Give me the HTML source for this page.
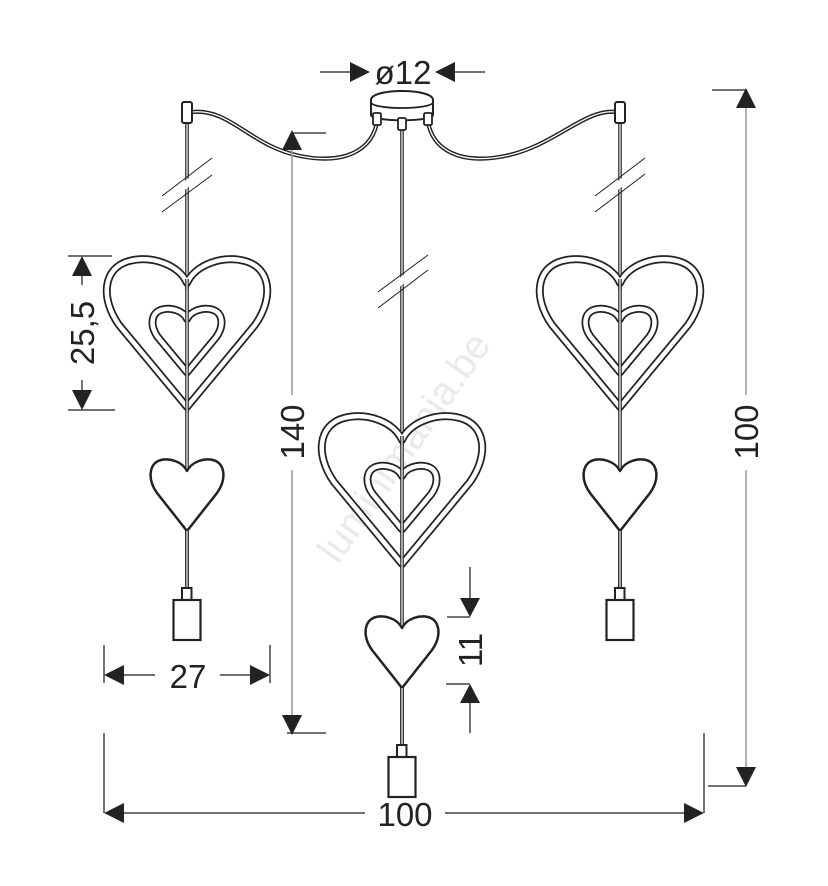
<!DOCTYPE html>
<html><head><meta charset="utf-8"><style>html,body{margin:0;padding:0;background:#fff}svg{display:block}</style></head>
<body>
<svg width="828" height="886" viewBox="0 0 828 886" xmlns="http://www.w3.org/2000/svg" font-family="Liberation Sans, Arial, sans-serif">
<defs>
  <path id="big" d="M0,0 C-8,-18 -35,-28 -58,-22 C-84,-15 -87,15 -68,42 L0,124 L68,42 C87,15 84,-15 58,-22 C35,-28 8,-18 0,0Z"/>
  <path id="small" d="M0,0 C-5,-10 -18,-13 -26,-11 C-38,-8 -40,8 -30,22 L0,60 L30,22 C40,8 38,-8 26,-11 C18,-13 5,-10 0,0Z"/>
  <g id="pend">
    <!-- outer tube heart -->
    <use href="#big" fill="none" stroke="#222" stroke-width="8" stroke-linejoin="round"/>
    <use href="#big" fill="none" stroke="#fff" stroke-width="4.5" stroke-linejoin="round"/>
    <!-- inner tube heart -->
    <g transform="translate(0,36) scale(0.43)">
      <use href="#big" fill="none" stroke="#222" stroke-width="18.6" stroke-linejoin="round"/>
      <use href="#big" fill="none" stroke="#fff" stroke-width="10.5" stroke-linejoin="round"/>
    </g>
    <!-- cord through -->
    <line x1="0" y1="-4" x2="0" y2="306" stroke="#222" stroke-width="3.6"/>
    <line x1="0" y1="-4" x2="0" y2="306" stroke="#fff" stroke-width="1.2"/>
    <!-- small heart -->
    <use href="#small" transform="translate(0,188)" fill="#fff" stroke="#222" stroke-width="2.5" stroke-linejoin="round"/>
    <line x1="0" y1="248" x2="0" y2="306" stroke="#222" stroke-width="3.6"/>
    <line x1="0" y1="248" x2="0" y2="306" stroke="#fff" stroke-width="1.2"/>
    <!-- socket -->
    <rect x="-5" y="305" width="9.5" height="12" fill="#fff" stroke="#222" stroke-width="2"/>
    <rect x="-13.5" y="317" width="27" height="40" fill="#fff" stroke="#222" stroke-width="2.2"/>
  </g>
  <g id="cord">
    <line x1="0" y1="0" x2="0" y2="1" stroke="#222" stroke-width="3.6"/>
  </g>
</defs>

<!-- watermark -->
<text x="0" y="0" transform="translate(415,455) rotate(-55)" text-anchor="middle" font-size="40" fill="#eaeaea">luminimania.be</text>

<!-- cables -->
<g fill="none" stroke-linecap="round">
  <path d="M377,122 C372,150 345,165 300,156 C250,146 230,108 192,112" stroke="#222" stroke-width="4.2"/>
  <path d="M377,122 C372,150 345,165 300,156 C250,146 230,108 192,112" stroke="#fff" stroke-width="1.3"/>
  <path d="M428,122 C433,150 460,165 505,156 C555,146 585,108 616,112" stroke="#222" stroke-width="4.2"/>
  <path d="M428,122 C433,150 460,165 505,156 C555,146 585,108 616,112" stroke="#fff" stroke-width="1.3"/>
</g>

<!-- vertical upper cords -->
<g>
  <line x1="187" y1="122" x2="187" y2="290" stroke="#222" stroke-width="3.6"/>
  <line x1="187" y1="122" x2="187" y2="290" stroke="#fff" stroke-width="1.2"/>
  <line x1="620" y1="122" x2="620" y2="290" stroke="#222" stroke-width="3.6"/>
  <line x1="620" y1="122" x2="620" y2="290" stroke="#fff" stroke-width="1.2"/>
  <line x1="402" y1="128" x2="402" y2="445" stroke="#222" stroke-width="3.6"/>
  <line x1="402" y1="128" x2="402" y2="445" stroke="#fff" stroke-width="1.2"/>
</g>

<!-- side caps -->
<rect x="182" y="102" width="10" height="21" rx="2" fill="#fff" stroke="#222" stroke-width="2"/>
<rect x="615" y="102" width="10" height="21" rx="2" fill="#fff" stroke="#222" stroke-width="2"/>

<!-- canopy -->
<path d="M371,115 L371,100 C371,88 433,88 433,100 L433,115 C433,122 371,122 371,115Z" fill="#fff" stroke="#222" stroke-width="2"/>
<path d="M371,102 C371,110 433,110 433,102" fill="none" stroke="#222" stroke-width="1.8"/>
<rect x="373" y="113" width="8" height="12" rx="1.5" fill="#fff" stroke="#222" stroke-width="1.8"/>
<rect x="424" y="113" width="8" height="12" rx="1.5" fill="#fff" stroke="#222" stroke-width="1.8"/>
<rect x="398" y="118" width="8" height="12" rx="1.5" fill="#fff" stroke="#222" stroke-width="1.8"/>

<!-- pendants -->
<use href="#pend" transform="translate(187,283)"/>
<use href="#pend" transform="translate(620,283)"/>
<use href="#pend" transform="translate(402,440)"/>

<!-- break marks -->
<g stroke="#fff" stroke-width="7">
  <line x1="165" y1="200" x2="210" y2="167"/>
  <line x1="598" y1="200" x2="643" y2="167"/>
  <line x1="381" y1="296" x2="426" y2="263"/>
</g>
<g stroke="#222" stroke-width="1">
  <line x1="162" y1="196" x2="212" y2="158"/>
  <line x1="162" y1="212" x2="212" y2="175"/>
  <line x1="595" y1="196" x2="645" y2="158"/>
  <line x1="595" y1="212" x2="645" y2="174"/>
  <line x1="378" y1="292" x2="428" y2="255"/>
  <line x1="378" y1="308" x2="428" y2="270"/>
</g>

<!-- dimensions -->
<g stroke="#444" stroke-width="1.5" fill="none">
  <!-- ø12 -->
  <line x1="320" y1="72" x2="355" y2="72"/>
  <line x1="450" y1="72" x2="485" y2="72"/>
  <!-- 140 -->
  <line x1="292" y1="133" x2="326" y2="133"/>
  <line x1="287" y1="733" x2="326" y2="733"/>
  <line x1="292" y1="150" x2="292" y2="395" stroke="#999"/>
  <line x1="292" y1="470" x2="292" y2="715" stroke="#999"/>
  <!-- right 100 -->
  <line x1="712" y1="90" x2="746" y2="90"/>
  <line x1="708" y1="786" x2="746" y2="786"/>
  <line x1="746" y1="108" x2="746" y2="395" stroke="#999"/>
  <line x1="746" y1="470" x2="746" y2="768" stroke="#999"/>
  <!-- bottom 100 -->
  <line x1="104" y1="733" x2="104" y2="813"/>
  <line x1="704" y1="733" x2="704" y2="813"/>
  <line x1="124" y1="813" x2="365" y2="813"/>
  <line x1="445" y1="813" x2="684" y2="813"/>
  <!-- 27 -->
  <line x1="104" y1="645" x2="104" y2="683"/>
  <line x1="270" y1="645" x2="270" y2="683"/>
  <line x1="124" y1="675" x2="155" y2="675"/>
  <line x1="220" y1="675" x2="250" y2="675"/>
  <!-- 25,5 -->
  <line x1="68" y1="256" x2="112" y2="256"/>
  <line x1="68" y1="410" x2="115" y2="410"/>
  <line x1="82" y1="276" x2="82" y2="285"/>
  <line x1="82" y1="380" x2="82" y2="390"/>
  <!-- 11 -->
  <line x1="470" y1="567" x2="470" y2="598"/>
  <line x1="447" y1="617" x2="470" y2="617"/>
  <line x1="446" y1="684" x2="470" y2="684"/>
  <line x1="470" y1="703" x2="470" y2="733"/>
</g>

<g fill="#222">
  <!-- ø12 arrows -->
  <polygon points="370,72 350,62 350,82"/>
  <polygon points="435,72 455,62 455,82"/>
  <!-- 140 -->
  <polygon points="292,130 282,150 302,150"/>
  <polygon points="292,735 282,715 302,715"/>
  <!-- right 100 -->
  <polygon points="746,88 736,108 756,108"/>
  <polygon points="746,787 736,767 756,767"/>
  <!-- bottom 100 -->
  <polygon points="104,813 124,803 124,823"/>
  <polygon points="704,813 684,803 684,823"/>
  <!-- 27 -->
  <polygon points="104,675 124,665 124,685"/>
  <polygon points="270,675 250,665 250,685"/>
  <!-- 25,5 -->
  <polygon points="82,256 72,276 92,276"/>
  <polygon points="82,410 72,390 92,390"/>
  <!-- 11 -->
  <polygon points="470,617 460,598 480,598"/>
  <polygon points="470,684 460,703 480,703"/>
</g>

<g fill="#222" font-size="33">
  <text x="403" y="84" text-anchor="middle">ø12</text>
  <text x="188" y="688" text-anchor="middle">27</text>
  <text x="405" y="826" text-anchor="middle">100</text>
  <text transform="translate(304,432) rotate(-90)" text-anchor="middle">140</text>
  <text transform="translate(758,432) rotate(-90)" text-anchor="middle">100</text>
  <text transform="translate(94,333) rotate(-90)" text-anchor="middle">25,5</text>
  <text transform="translate(482,650) rotate(-90)" text-anchor="middle">11</text>
</g>
</svg>
</body></html>
